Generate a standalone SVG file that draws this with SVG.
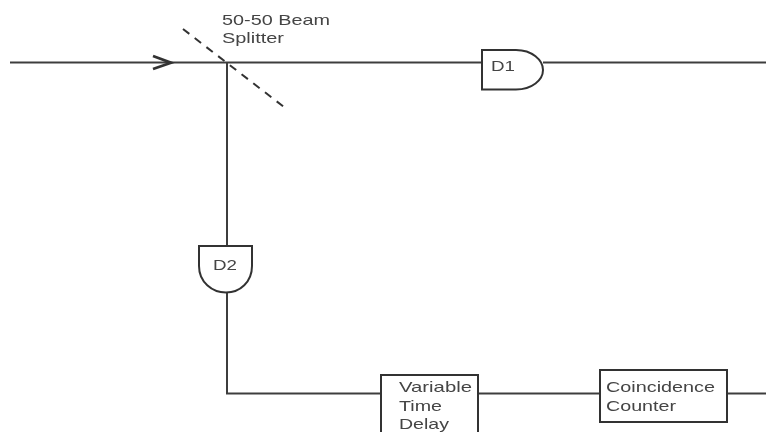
<svg xmlns="http://www.w3.org/2000/svg" width="766" height="432" viewBox="0 0 766 432">
<defs><filter id="soft" x="0" y="0" width="100%" height="100%"><feGaussianBlur stdDeviation="0.4"/></filter></defs>
<style>
.c{fill:none;stroke:#3c3c3c;stroke-width:2}
.n{fill:#fff;stroke:#333;stroke-width:2}
text{font-family:"Liberation Sans",Arial,sans-serif;font-size:15px;fill:#444}
</style>
<rect width="766" height="432" fill="#fff"/>
<g filter="url(#soft)">
<g id="connectors">
<path class="c" d="M10 62.500H482M543 62.500H766"/>
<path class="c" d="M227 63V246M227 293V393.500H381M478 393.500H600M727 393.500H766"/>
<path d="M183 29L284 107" fill="none" stroke="#333" stroke-width="2" stroke-dasharray="8 6.800"/>
<path d="M153 56L171 62.700L153 69" fill="none" stroke="#333" stroke-width="2.800"/>
</g>
<g id="splitter-label"><text x="222" y="25" textLength="108" lengthAdjust="spacingAndGlyphs">50-50 Beam</text><text x="222" y="43" textLength="62" lengthAdjust="spacingAndGlyphs">Splitter</text></g>
<g id="d1"><path class="n" d="M482 50H516C532 50 543 60 543 70C543 80 532 89.500 516 89.500H482Z"/><text x="491" y="71" textLength="24" lengthAdjust="spacingAndGlyphs">D1</text></g>
<g id="d2"><path class="n" d="M199 246H252V266C252 282 240 292.500 226 292.500C212 292.500 199 282 199 266Z"/><text x="213" y="270" textLength="24" lengthAdjust="spacingAndGlyphs">D2</text></g>
<g id="delay"><path class="n" d="M381 434V375H478V434"/><text x="399" y="392" textLength="73" lengthAdjust="spacingAndGlyphs">Variable</text><text x="399" y="411" textLength="43" lengthAdjust="spacingAndGlyphs">Time</text><text x="399" y="429" textLength="50" lengthAdjust="spacingAndGlyphs">Delay</text></g>
<g id="counter"><rect class="n" x="600" y="370" width="127" height="52"/><text x="606" y="392" textLength="109" lengthAdjust="spacingAndGlyphs">Coincidence</text><text x="606" y="411" textLength="70" lengthAdjust="spacingAndGlyphs">Counter</text></g>
</g>
</svg>
